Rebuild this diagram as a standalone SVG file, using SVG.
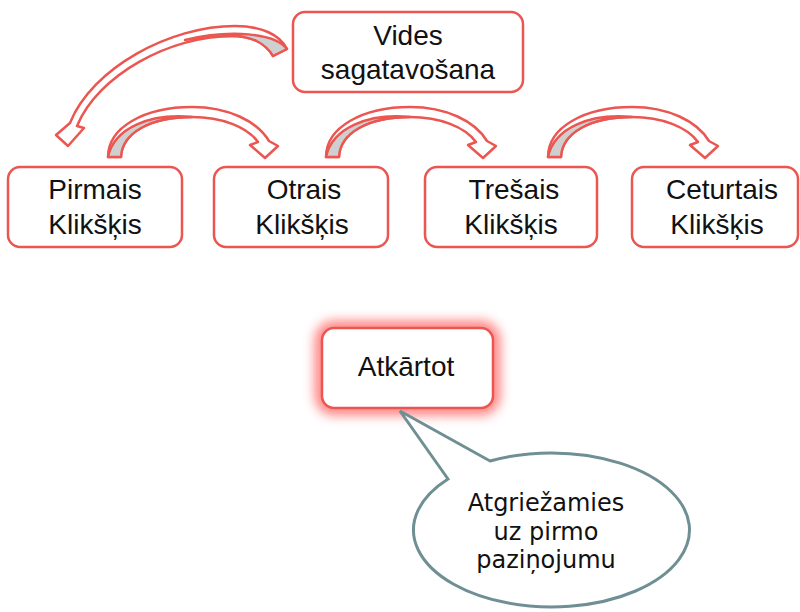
<svg xmlns="http://www.w3.org/2000/svg" xmlns:xlink="http://www.w3.org/1999/xlink" width="800" height="612" viewBox="0 0 800 612">
<style>
.box{fill:#ffffff;stroke:#eb5651;stroke-width:2.5}
.lbl{font-family:"Liberation Sans",Arial,sans-serif;font-size:28px;fill:#111;text-anchor:middle}
.arw{fill:#ffffff;stroke:#eb5651;stroke-width:2.5;stroke-linejoin:round}
.arg{fill:#cfcfcf;stroke:#eb5651;stroke-width:2.5;stroke-linejoin:round}
.bub{fill:#ffffff;stroke:#6f8f95;stroke-width:3;stroke-linejoin:miter}
.btx{font-family:"DejaVu Sans","Noto Sans",sans-serif;font-size:24px;fill:#111;text-anchor:middle}
</style>
<defs>
<g id="curv">
<path class="arw" d="M108,157 C108,127 145,107 192,107 C228,107 257,121 269,141 L278,146 L265,158 L250,145 L258,142 C247,127 222,117 192,117 C150,117 122,133 121,157 Z"/>
<path class="arg" d="M121,157 C122,133 150,117 192,117 C150,113 114,128 108,157 Z"/>
</g>
<filter id="glow" x="-40%" y="-40%" width="180%" height="180%">
<feGaussianBlur stdDeviation="6"/>
</filter>
</defs>
<g id="connectors">
<path class="arw" d="M287,49 C280,35 262,26 235,26 C170,26 92,68 70,123 L56,135 L68,146 L84,128 L77,126 C98,75 170,36 232,36 C252,36 266,44 273,56 Z"/>
<path class="arg" d="M273,56 C266,44 252,36 232,36 C215,36 200,37 185,40 C230,29 275,33 287,49 Z"/>
<use xlink:href="#curv"/>
<use xlink:href="#curv" transform="translate(218,0)"/>
<use xlink:href="#curv" transform="translate(440,0)"/>
</g>
<g id="vides">
<rect class="box" x="293" y="12" width="230" height="80" rx="12"/>
<text class="lbl" x="408" y="45">Vides</text>
<text class="lbl" x="408" y="79">sagatavošana</text>
</g>
<g id="pirmais">
<rect class="box" x="8" y="167" width="174" height="80" rx="12"/>
<text class="lbl" x="95" y="199">Pirmais</text>
<text class="lbl" x="95" y="234">Klikšķis</text>
</g>
<g id="otrais">
<rect class="box" x="214" y="167" width="174" height="80" rx="12"/>
<text class="lbl" x="304" y="199">Otrais</text>
<text class="lbl" x="302" y="234">Klikšķis</text>
</g>
<g id="tresais">
<rect class="box" x="425" y="167" width="172" height="80" rx="12"/>
<text class="lbl" x="514" y="199">Trešais</text>
<text class="lbl" x="511" y="234">Klikšķis</text>
</g>
<g id="ceturtais">
<rect class="box" x="632" y="167" width="166" height="80" rx="12"/>
<text class="lbl" x="722" y="199">Ceturtais</text>
<text class="lbl" x="717" y="234">Klikšķis</text>
</g>
<g id="atkartot">
<rect x="322" y="328" width="171" height="80" rx="12" fill="none" stroke="#ff5a5a" stroke-width="14" opacity="0.8" filter="url(#glow)"/>
<rect class="box" x="322" y="328" width="171" height="80" rx="12"/>
<text class="lbl" x="406" y="376">Atkārtot</text>
</g>
<g id="bubble">
<path class="bub" d="M448,479 L400,411 L490,461 A138,77 0 1,1 448,479 Z"/>
<text class="btx" x="546" y="511">Atgriežamies</text>
<text class="btx" x="546" y="540">uz pirmo</text>
<text class="btx" x="546" y="568">paziņojumu</text>
</g>
</svg>
